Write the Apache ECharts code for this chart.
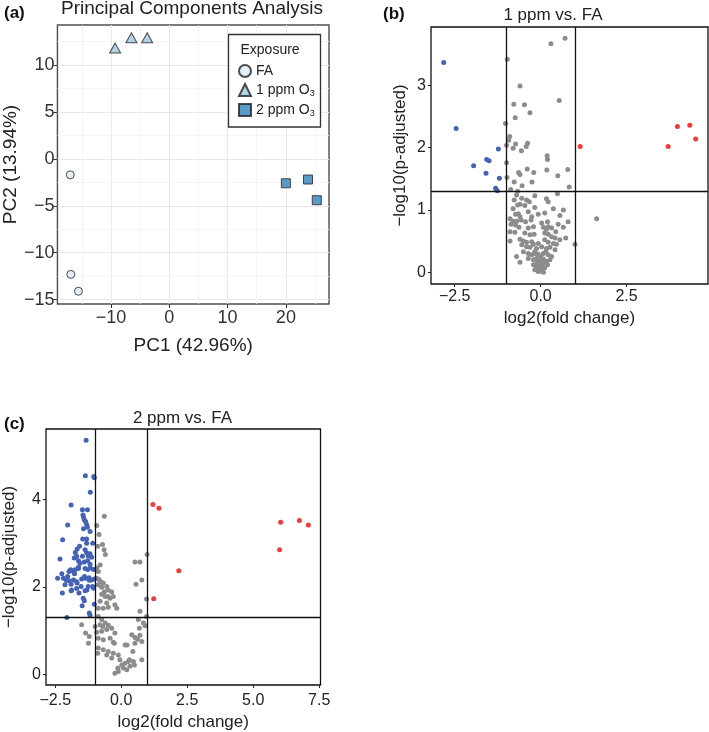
<!DOCTYPE html>
<html>
<head>
<meta charset="utf-8">
<script src="https://cdn.jsdelivr.net/npm/echarts@6/dist/echarts.min.js"></script>
<style>
html,body{margin:0;padding:0;background:#fff;}
#chart{width:709px;height:732px;}
</style>
</head>
<body>
<div id="chart"></div>
<script>
// ---------- Panel (a): PCA ----------
const pcaFA   = [[-17.0,-1.7],[-16.9,-12.3],[-15.6,-14.1]];
const pca1ppm = [[-9.3,11.8],[-6.5,12.9],[-3.8,12.9]];
const pca2ppm = [[20.0,-2.6],[23.8,-2.2],[25.3,-4.4]];
const aXTicks = [-10,0,10,20];
const aYTicks = [-15,-10,-5,0,5,10];
const aXMinor = [-15,-5,5,15,25];
const aYMinor = [-12.5,-7.5,-2.5,2.5,7.5,12.5];

// ---------- Panel (b): 1 ppm vs. FA ----------
const bDown = [[-2.82,3.37],[-2.46,2.31],[-1.95,1.71],[-1.57,1.81],[-1.50,1.79],[-1.23,1.98],[-1.59,1.59],[-1.20,1.51],[-1.31,1.35],[-1.26,1.31]];
const bUp = [[1.15,2.02],[3.71,2.02],[3.98,2.34],[4.34,2.36],[4.51,2.14]];
const bNS = [
 [0.71,3.76],[0.30,3.67],[-0.97,3.42],[-0.60,2.99],[0.54,2.76],[-0.78,2.70],[-0.47,2.69],[-0.31,2.56],[-0.74,2.48],[-1.02,2.39],
 [-0.90,2.18],[-0.93,2.12],[-0.73,2.06],[-0.99,2.04],[-0.38,2.07],[-0.42,2.02],[-0.80,1.99],[-0.56,1.95],[0.19,1.87],[0.20,1.81],
 [-0.99,1.76],[-0.39,1.66],[-0.64,1.60],[-0.60,1.57],[-0.20,1.60],[0.18,1.64],[0.50,1.55],[0.79,1.65],[-0.98,1.52],[-0.77,1.45],
 [-0.54,1.39],[-0.25,1.45],[0.83,1.37],[-0.87,1.33],[-0.67,1.30],
 [-0.70,1.24],[-0.55,1.19],[-0.41,1.16],[-0.33,1.13],[-0.17,1.23],[0.17,1.18],[0.22,1.13],[0.49,1.26],[-0.77,1.16],[-0.67,1.08],
 [-0.60,1.09],[-0.46,1.07],[-0.17,1.04],[0.37,1.02],[0.66,1.00],[-0.80,1.02],[-0.73,0.93],[-0.65,0.94],[-0.60,0.89],[-0.36,0.97],
 [-0.26,0.89],[-0.07,0.93],[0.12,0.95],[0.56,0.91],[0.80,0.81],[-0.89,0.86],[-0.80,0.82],[-0.70,0.82],[-0.57,0.84],[-0.44,0.81],
 [-0.28,0.84],[0.03,0.79],[0.20,0.81],[0.22,0.73],[0.51,0.77],[0.66,0.72],[-0.86,0.77],[-0.73,0.76],[-0.63,0.72],[-0.36,0.71],
 [-0.21,0.73],[0.08,0.72],[0.17,0.69],[0.32,0.71],[0.44,0.65],[-0.89,0.65],[-0.75,0.64],[-0.46,0.63],[-0.31,0.60],[-0.19,0.61],
 [0.12,0.63],[0.22,0.61],[0.32,0.57],[0.42,0.55],[0.56,0.52],[0.73,0.55],[1.00,0.45],[-0.89,0.50],[-0.60,0.53],[-0.50,0.50],
 [-0.41,0.48],[-0.26,0.49],[-0.07,0.46],[0.12,0.52],[0.22,0.48],[0.37,0.46],[0.46,0.45],[-0.55,0.44],[-0.41,0.41],[-0.31,0.40],
 [-0.21,0.45],[-0.12,0.38],[0.03,0.41],[0.17,0.38],[0.27,0.40],[0.42,0.36],[-0.50,0.33],[-0.36,0.30],[-0.26,0.28],[-0.17,0.33],
 [-0.07,0.29],[0.08,0.30],[0.22,0.28],[0.32,0.25],[-0.70,0.25],[-0.60,0.16],[-0.36,0.22],[-0.21,0.20],[-0.12,0.22],[-0.02,0.18],
 [0.08,0.21],[0.17,0.17],[0.27,0.20],[-0.21,0.12],[-0.12,0.09],[-0.07,0.13],[0.03,0.11],[0.12,0.07],[0.20,0.12],[-0.17,0.04],
 [-0.02,0.02],[0.08,0.00],[-0.07,0.01],[-0.05,0.05],[0.00,0.08],[0.05,0.04],[-0.10,0.15],[0.10,0.15],[0.00,0.25],[-0.15,0.30],
 [0.15,0.33],[1.63,0.86]
];

// ---------- Panel (c): 2 ppm vs. FA ----------
const cDown = [
 [-1.33,5.36],[-1.36,4.55],[-1.04,4.53],[-1.02,4.50],[-1.17,4.17],[-1.90,3.88],[-1.47,3.77],[-1.28,3.77],[-1.45,3.65],[-1.43,3.60],
 [-1.40,3.54],[-1.35,3.50],[-1.31,3.43],[-2.03,3.42],[-1.28,3.37],[-1.43,3.33],[-1.18,3.27],[-2.22,3.08],[-1.46,3.10],[-1.31,3.10],
 [-1.31,3.00],[-1.08,3.00],[-1.58,2.93],[-1.67,2.87],[-1.74,2.79],[-1.37,2.85],[-1.31,2.78],[-1.25,2.71],[-1.18,2.76],[-1.12,2.68],
 [-2.32,2.64],[-1.69,2.70],[-1.78,2.66],[-1.62,2.60],[-1.56,2.54],[-1.40,2.57],[-1.27,2.60],[-1.18,2.52],[-1.88,2.37],[-1.98,2.35],
 [-1.75,2.39],[-1.62,2.42],[-1.37,2.42],[-1.27,2.40],[-1.17,2.43],[-1.05,2.40],[-2.41,2.20],[-2.19,2.20],[-2.03,2.24],[-1.98,2.14],
 [-1.81,2.16],[-1.69,2.12],[-1.50,2.18],[-1.37,2.20],[-1.22,2.21],[-1.12,2.16],[-1.02,2.18],[-2.13,2.05],[-1.90,2.06],[-1.90,1.91],
 [-1.69,1.96],[-1.37,1.91],[-2.23,1.86],[-1.60,1.86],[-1.25,2.01],[-1.05,1.97],[-1.44,1.74],[-1.40,1.68],[-1.48,1.57],[-1.02,1.60],
 [-1.21,1.40],[-1.18,1.35],[-2.06,1.30],[-2.25,2.30],[-1.92,2.39],[-1.77,2.30],[-1.62,2.45],[-1.47,2.70],[-1.39,2.24],[-1.21,2.15],
 [-1.88,1.93],[-2.08,2.15],[-1.67,2.09],[-1.52,2.01],[-1.30,1.93],[-1.08,2.01]
];
const cUp = [[1.20,3.89],[1.43,3.80],[2.18,2.37],[1.23,1.73],[6.04,3.48],[6.75,3.52],[7.09,3.42],[6.00,2.85]];
const cNS = [
 [-0.64,3.62],[-0.93,3.41],[-0.84,3.20],[-0.71,2.97],[-0.89,2.93],[-0.65,2.85],[-0.60,2.74],[0.98,2.74],
 [-0.93,2.43],[-0.80,2.50],[-0.87,2.35],[0.52,2.57],[0.71,2.57],[0.78,2.16],[0.56,2.06],[0.96,1.72],[-0.93,2.20],[-0.84,2.17],
 [-0.77,2.12],[-0.68,2.09],[-0.87,2.05],[-0.74,1.99],[-0.55,2.01],[-0.64,1.89],[-0.49,1.93],[-0.36,1.88],[-0.74,1.83],[-0.61,1.78],
 [-0.42,1.74],[-0.30,1.78],[-0.80,1.67],[-0.55,1.63],[-0.24,1.59],[-0.87,1.51],[-0.68,1.51],[-0.49,1.53],[-0.17,1.51],
 [0.71,1.44],[0.96,1.32],[0.65,1.25],[0.84,1.17],[0.90,1.11],[-1.50,1.13],[-0.87,1.32],[-0.74,1.25],[-0.61,1.17],[-0.80,1.13],
 [-0.99,1.09],[-0.49,1.12],[-1.35,0.94],[-1.21,0.86],[-0.93,0.96],[-0.74,0.98],[-0.55,1.02],[-0.36,1.05],[-0.24,0.94],[-1.24,0.71],
 [-0.87,0.82],[-0.68,0.79],[-0.42,0.82],[-0.30,0.73],[0.40,0.90],[0.52,0.84],[0.71,0.89],[0.78,0.75],[-0.87,0.60],[-0.68,0.56],
 [-0.49,0.52],[-0.30,0.48],[-0.11,0.44],[0.15,0.67],[0.52,0.71],[-0.89,0.48],[-0.55,0.44],[-0.36,0.37],[-0.05,0.33],[0.78,0.33],
 [0.02,0.21],[0.14,0.25],[0.27,0.29],[0.08,0.14],[-0.11,0.06],[-0.24,0.02],[0.21,0.10],[0.33,0.18],[0.46,0.29],[0.50,0.21],
 [-0.13,0.14],[0.31,0.33],[0.22,0.67],[0.44,0.52],[0.62,0.80],[0.69,1.05],[-0.70,1.09],[-0.26,0.71],[-0.51,1.78]
];

// thresholds and ticks
const fcCut = [-1, 1];
const padjCut = 1.301;
const bXTicks = [-2.5,0,2.5];
const bYTicks = [0,1,2,3];
const cXTicks = [-2.5,0,2.5,5,7.5];
const cYTicks = [0,2,4];

const FONT = "'Liberation Sans', Arial, Helvetica, sans-serif";
const MINUS = '\u2212';
const fmtInt = v => (v < 0 ? MINUS : '') + Math.abs(v);
const fmt1 = v => (v < 0 ? MINUS : '') + Math.abs(v).toFixed(1);

const BLUE = '#4462b6', RED = '#f03b3b', GRAY = '#8c8c8c';

function volcanoX(gridIndex, min, max, ticks, margin, gap) {
  return {
    gridIndex, type: 'value', min, max, position: 'bottom',
    axisLine: {show: false, onZero: false},
    axisTick: {show: true, customValues: ticks, length: 3, lineStyle: {color: '#222'}},
    axisLabel: {customValues: ticks, formatter: fmt1, fontSize: 16, color: '#222', fontFamily: FONT, margin},
    splitLine: {show: false},
    name: 'log2(fold change)', nameLocation: 'middle', nameGap: gap,
    nameTextStyle: {fontSize: 17, color: '#222', fontFamily: FONT}
  };
}
function volcanoY(gridIndex, min, max, ticks, gap) {
  return {
    gridIndex, type: 'value', min, max, position: 'left',
    axisLine: {show: false, onZero: false},
    axisTick: {show: true, customValues: ticks, length: 3, lineStyle: {color: '#222'}},
    axisLabel: {customValues: ticks, formatter: fmtInt, fontSize: 16, color: '#222', fontFamily: FONT, margin: 5},
    splitLine: {show: false},
    name: MINUS + 'log10(p-adjusted)', nameLocation: 'middle', nameGap: gap,
    nameTextStyle: {fontSize: 17, color: '#222', fontFamily: FONT}
  };
}
function pts(data, color, xi, yi, extra) {
  return Object.assign({
    type: 'scatter', xAxisIndex: xi, yAxisIndex: yi, data,
    symbol: 'circle', symbolSize: 5, itemStyle: {color, opacity: 1}, silent: true, z: 3
  }, extra || {});
}
function cutLines() {
  return {
    silent: true, symbol: 'none', animation: false,
    label: {show: false},
    lineStyle: {color: '#111', width: 1.3, type: 'solid'},
    data: [{xAxis: fcCut[0]}, {xAxis: fcCut[1]}, {yAxis: padjCut}]
  };
}

const chart = echarts.init(document.getElementById('chart'), null, {renderer: 'canvas'});
chart.setOption({
  animation: false,
  backgroundColor: '#fff',
  textStyle: {fontFamily: FONT},
  grid: [
    {left: 53, top: 25, width: 276, height: 279, show: true, borderColor: '#4d4d4d', borderWidth: 1.4, backgroundColor: 'transparent'},
    {left: 431, top: 27, width: 277, height: 257, show: true, borderColor: '#111', borderWidth: 1.3, backgroundColor: 'transparent'},
    {left: 44, top: 429, width: 276.5, height: 256.5, show: true, borderColor: '#111', borderWidth: 1.3, backgroundColor: 'transparent'}
  ],
  xAxis: [
    {gridIndex: 0, type: 'value', min: -19.2, max: 27.4, position: 'bottom',
     axisLine: {show: false, onZero: false},
     axisTick: {show: true, customValues: aXTicks, length: 4, lineStyle: {color: '#333'}},
     axisLabel: {customValues: aXTicks, formatter: fmtInt, fontSize: 18, color: '#333', fontFamily: FONT, margin: 5},
     splitLine: {show: true, lineStyle: {color: '#e8e8e8', width: 1}},
     name: 'PC1 (42.96%)', nameLocation: 'middle', nameGap: 32,
     nameTextStyle: {fontSize: 19, color: '#222', fontFamily: FONT}},
    {gridIndex: 0, type: 'value', min: -19.2, max: 27.4, position: 'top',
     axisLine: {show: false, onZero: false}, axisLabel: {show: false},
     axisTick: {show: false, customValues: aXMinor},
     splitLine: {show: true, lineStyle: {color: '#f2f2f2', width: 0.8}}},
    volcanoX(1, -3.19, 4.87, bXTicks, 5, 26),
    volcanoX(2, -2.85, 7.55, cXTicks, 8, 29)
  ],
  yAxis: [
    {gridIndex: 0, type: 'value', min: -15.46, max: 14.26, position: 'left',
     axisLine: {show: false, onZero: false},
     axisTick: {show: true, customValues: aYTicks, length: 4, lineStyle: {color: '#333'}},
     axisLabel: {customValues: aYTicks, formatter: fmtInt, fontSize: 18, color: '#333', fontFamily: FONT, margin: 3},
     splitLine: {show: true, lineStyle: {color: '#e8e8e8', width: 1}},
     name: 'PC2 (13.94%)', nameLocation: 'middle', nameGap: 30,
     nameTextStyle: {fontSize: 19, color: '#222', fontFamily: FONT}},
    {gridIndex: 0, type: 'value', min: -15.46, max: 14.26, position: 'right',
     axisLine: {show: false, onZero: false}, axisLabel: {show: false},
     axisTick: {show: false, customValues: aYMinor},
     splitLine: {show: true, lineStyle: {color: '#f2f2f2', width: 0.8}}},
    volcanoY(1, -0.19, 3.94, bYTicks, 22),
    volcanoY(2, -0.25, 5.62, cYTicks, 28)
  ],
  legend: {
    data: ['FA', '1 ppm O3', '2 ppm O3'],
    orient: 'vertical', left: 238, top: 64, padding: 0,
    itemWidth: 12, itemHeight: 12, itemGap: 5,
    selectedMode: false, z: 6,
    formatter: name => name.replace('O3', 'O{sub|3}'),
    textStyle: {fontSize: 14, color: '#222', fontFamily: FONT,
      rich: {sub: {fontSize: 9, fontFamily: FONT, color: '#222', verticalAlign: 'bottom', padding: [7, 0, 0, 0]}}}
  },
  graphic: [
    {type: 'rect', shape: {x: 228.5, y: 34.5, width: 92, height: 92.5}, z: 5,
     style: {fill: '#fff', stroke: '#333', lineWidth: 1.3}},
    {type: 'text', x: 240.5, y: 50, z: 7,
     style: {text: 'Exposure', font: '14px ' + FONT, fill: '#222', textAlign: 'left', textVerticalAlign: 'middle'}},
    {type: 'text', x: 192, y: 8.5,
     style: {text: 'Principal Components Analysis', font: '19px ' + FONT, fill: '#222', textAlign: 'center', textVerticalAlign: 'middle'}},
    {type: 'text', x: 4, y: 13,
     style: {text: '(a)', font: 'bold 17px ' + FONT, fill: '#111', textAlign: 'left', textVerticalAlign: 'middle'}},
    {type: 'text', x: 553, y: 15.5,
     style: {text: '1 ppm vs. FA', font: '17px ' + FONT, fill: '#222', textAlign: 'center', textVerticalAlign: 'middle'}},
    {type: 'text', x: 383, y: 14,
     style: {text: '(b)', font: 'bold 17px ' + FONT, fill: '#111', textAlign: 'left', textVerticalAlign: 'middle'}},
    {type: 'text', x: 182.5, y: 418.5,
     style: {text: '2 ppm vs. FA', font: '17px ' + FONT, fill: '#222', textAlign: 'center', textVerticalAlign: 'middle'}},
    {type: 'text', x: 4, y: 424,
     style: {text: '(c)', font: 'bold 17px ' + FONT, fill: '#111', textAlign: 'left', textVerticalAlign: 'middle'}}
  ],
  series: [
    {name: 'FA', type: 'scatter', xAxisIndex: 0, yAxisIndex: 0, data: pcaFA,
     symbol: 'circle', symbolSize: 8, itemStyle: {color: '#deebf7', borderColor: '#222', borderWidth: 1}, z: 3},
    {name: '1 ppm O3', type: 'scatter', xAxisIndex: 0, yAxisIndex: 0, data: pca1ppm,
     symbol: 'triangle', symbolSize: [11, 10], itemStyle: {color: '#9ecae1', borderColor: '#222', borderWidth: 1}, z: 3},
    {name: '2 ppm O3', type: 'scatter', xAxisIndex: 0, yAxisIndex: 0, data: pca2ppm,
     symbol: 'rect', symbolSize: 9, itemStyle: {color: '#3182bd', borderColor: '#222', borderWidth: 1}, z: 3},
    pts(bNS, GRAY, 2, 2, {markLine: cutLines()}),
    pts(bDown, BLUE, 2, 2),
    pts(bUp, RED, 2, 2),
    pts(cNS, GRAY, 3, 3, {markLine: cutLines()}),
    pts(cDown, BLUE, 3, 3),
    pts(cUp, RED, 3, 3)
  ]
});
</script>
</body>
</html>
